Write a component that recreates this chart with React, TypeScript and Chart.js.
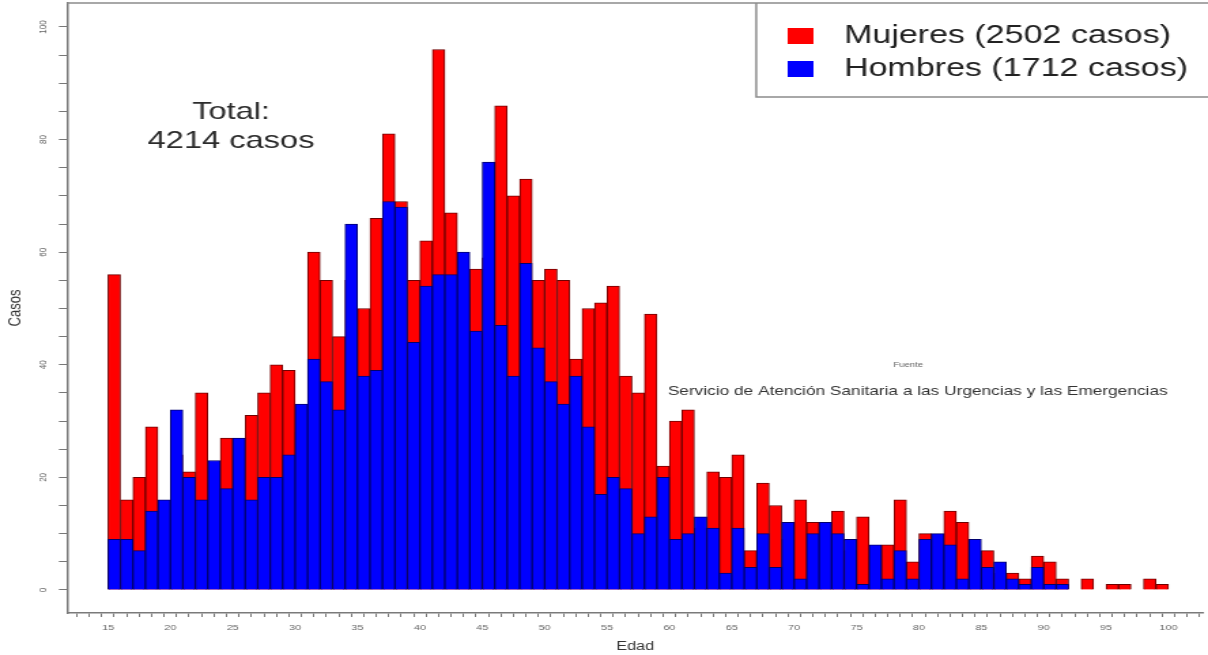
import React, { useEffect, useRef } from 'react';
import { Chart, registerables } from 'chart.js';

Chart.register(...registerables);

// ---- data ----
const ages = [
  15, 16, 17, 18, 19, 20, 21, 22, 23, 24, 25, 26, 27, 28, 29, 30, 31, 32, 33, 34,
  35, 36, 37, 38, 39, 40, 41, 42, 43, 44, 45, 46, 47, 48, 49, 50, 51, 52, 53, 54,
  55, 56, 57, 58, 59, 60, 61, 62, 63, 64, 65, 66, 67, 68, 69, 70, 71, 72, 73, 74,
  75, 76, 77, 78, 79, 80, 81, 82, 83, 84, 85, 86, 87, 88, 89, 90, 91, 92, 93, 94,
  95, 96, 97, 98, 99,
];

const mujeres = [
  56, 16, 20, 29, 14, 24, 21, 35, 19, 27, 24, 31, 35, 40, 39, 28, 60, 55, 45, 55,
  50, 66, 81, 69, 55, 62, 96, 67, 52, 57, 59, 86, 70, 73, 55, 57, 55, 41, 50, 51,
  54, 38, 35, 49, 22, 30, 32, 11, 21, 20, 24, 7, 19, 15, 9, 16, 12, 10, 14, 7,
  13, 6, 8, 16, 5, 10, 7, 14, 12, 6, 7, 3, 3, 2, 6, 5, 2, 0, 2, 0,
  1, 1, 0, 2, 1,
];

const hombres = [
  9, 9, 7, 14, 16, 32, 20, 16, 23, 18, 27, 16, 20, 20, 24, 33, 41, 37, 32, 65,
  38, 39, 69, 68, 44, 54, 56, 56, 60, 46, 76, 47, 38, 58, 43, 37, 33, 38, 29, 17,
  20, 18, 10, 13, 20, 9, 10, 13, 11, 3, 11, 4, 10, 4, 12, 2, 10, 12, 10, 9,
  1, 8, 2, 7, 2, 9, 10, 8, 2, 9, 4, 5, 2, 1, 4, 1, 1, 0, 0, 0,
  0, 0, 0, 0, 0,
];

const seriesLabels = ['Mujeres (2502 casos)', 'Hombres (1712 casos)'];
const xTickLabels = [15, 20, 25, 30, 35, 40, 45, 50, 55, 60, 65, 70, 75, 80, 85, 90, 95, 100];
const yTickLabels = [0, 20, 40, 60, 80, 100];
const xTitle = 'Edad';
const yTitle = 'Casos';
const totalLines = ['Total:', '4214 casos'];
const sourceTitle = 'Fuente';
const sourceText = 'Servicio de Atención Sanitaria a las Urgencias y las Emergencias';

// ---- layout (canvas is drawn narrower and stretched horizontally, like the reference) ----
const CANVAS_W = 888;
const CANVAS_H = 655;
const DISPLAY_W = 1208;
const FONT = "'Liberation Sans', Arial, Helvetica, sans-serif";

const binCenter = (age: number) => age + 0.5;

const makeSwatch = (color: string) => {
  const c = document.createElement('canvas');
  c.width = 19;
  c.height = 16;
  const g = c.getContext('2d');
  if (g) {
    g.fillStyle = color;
    g.fillRect(0, 0, 19, 16);
  }
  return c;
};

const legendPlacer = {
  id: 'legendPlacer',
  afterLayout(chart: any) {
    const lg = chart.legend;
    if (!lg) return;
    lg.left = 561.9;
    lg.top = 15.5;
    lg.right = chart.width;
    lg.bottom = lg.top + 110;
    lg.width = lg.right - lg.left;
    lg.height = 110;
  },
};

const framePlugin = {
  id: 'framePlugin',
  afterDraw(chart: any) {
    const { ctx, chartArea, legend } = chart;
    ctx.save();
    ctx.strokeStyle = '#8c8c8c';
    ctx.lineWidth = 1.5;
    ctx.beginPath();
    ctx.moveTo(chartArea.left, chartArea.top);
    ctx.lineTo(chart.width, chartArea.top);
    const lx = legend.left - 6;
    const by = 97;
    ctx.moveTo(lx, chartArea.top);
    ctx.lineTo(lx, by);
    ctx.lineTo(chart.width, by);
    ctx.stroke();
    ctx.restore();
  },
};

const notesPlugin = {
  id: 'notesPlugin',
  afterDraw(chart: any) {
    const { ctx } = chart;
    const xs = chart.scales.x;
    const ys = chart.scales.y;
    ctx.save();
    ctx.textAlign = 'center';
    ctx.textBaseline = 'middle';
    ctx.fillStyle = '#2b2b2b';
    ctx.font = `24px ${FONT}`;
    ctx.fillText(totalLines[0], xs.getPixelForValue(24.86), ys.getPixelForValue(84.8));
    ctx.fillText(totalLines[1], xs.getPixelForValue(24.86), ys.getPixelForValue(79.75));
    ctx.fillStyle = '#666';
    ctx.font = `7px ${FONT}`;
    ctx.fillText(sourceTitle, xs.getPixelForValue(79.15), ys.getPixelForValue(40));
    ctx.fillStyle = '#333';
    ctx.font = `12.7px ${FONT}`;
    ctx.fillText(sourceText, xs.getPixelForValue(79.9), ys.getPixelForValue(35.2));
    ctx.restore();
  },
};

export default function App() {
  const ref = useRef<HTMLCanvasElement>(null);

  useEffect(() => {
    if (!ref.current) return;
    Chart.defaults.font.family = FONT;
    const defaultGen = (Chart.defaults as any).plugins.legend.labels.generateLabels;

    const chart = new Chart(ref.current, {
      type: 'bar',
      data: {
        datasets: [
          {
            label: seriesLabels[1],
            data: ages.map((a, i) => ({ x: binCenter(a), y: hombres[i] })),
            backgroundColor: '#0000ff',
            borderColor: '#00006e',
            borderWidth: 1,
            categoryPercentage: 1,
            barPercentage: 1,
          },
          {
            label: seriesLabels[0],
            data: ages.map((a, i) => ({ x: binCenter(a), y: mujeres[i] })),
            backgroundColor: '#ff0000',
            borderColor: '#6e0000',
            borderWidth: 1,
            categoryPercentage: 1,
            barPercentage: 1,
          },
        ],
      },
      options: {
        responsive: false,
        animation: false,
        events: [],
        layout: { padding: { left: 0, top: 3, right: 3.4, bottom: 0 } },
        scales: {
          x: {
            type: 'linear',
            stacked: true,
            min: 11.72,
            max: 102.8,
            offset: false,
            grid: { drawOnChartArea: false, drawTicks: true, tickLength: 4, tickColor: '#777', tickWidth: 1 },
            border: { display: true, color: '#7a7a7a', width: 1.5 },
            ticks: {
              stepSize: 1,
              autoSkip: false,
              includeBounds: false,
              minRotation: 0,
              maxRotation: 0,
              padding: 6,
              color: '#666',
              font: { size: 8 },
              callback: (v: any) => (xTickLabels.includes(Number(v)) ? String(v) : ''),
            },
            title: { display: true, text: xTitle, color: '#333', font: { size: 12 }, padding: { top: 0, bottom: 1 } },
            afterFit: (s: any) => {
              s.height = 42;
              s.paddingLeft = 0;
              s.paddingRight = 0;
            },
          },
          y: {
            type: 'linear',
            stacked: false,
            min: -4.09,
            max: 104.26,
            grid: { drawOnChartArea: false, drawTicks: true, tickLength: 6, tickColor: '#777', tickWidth: 1 },
            border: { display: true, color: '#7a7a7a', width: 1.5 },
            ticks: {
              stepSize: 5,
              autoSkip: false,
              includeBounds: false,
              minRotation: 90,
              maxRotation: 90,
              crossAlign: 'center',
              padding: 5,
              color: '#666',
              font: { size: 8 },
              callback: (v: any) => (yTickLabels.includes(Number(v)) ? String(v) : ''),
            },
            title: { display: true, text: yTitle, color: '#333', font: { size: 13 }, padding: { top: 4, bottom: 0 } },
            afterFit: (s: any) => {
              s.width = 49.3;
              s.paddingTop = 0;
              s.paddingBottom = 0;
            },
          },
        },
        plugins: {
          legend: {
            position: 'chartArea',
            align: 'start',
            reverse: true,
            labels: {
              color: '#222',
              font: { size: 25 },
              usePointStyle: true,
              pointStyleWidth: 38,
              boxHeight: 16,
              padding: 8,
              generateLabels: (c: any) =>
                defaultGen(c).map((l: any) => ({
                  ...l,
                  lineWidth: 0,
                  pointStyle: makeSwatch(l.fillStyle),
                })),
            },
          },
          tooltip: { enabled: false },
        },
      } as any,
      plugins: [legendPlacer, framePlugin, notesPlugin],
    });
    return () => chart.destroy();
  }, []);

  return (
    <canvas
      ref={ref}
      width={CANVAS_W}
      height={CANVAS_H}
      style={{ position: 'fixed', left: 0, top: 0, width: `${DISPLAY_W}px`, height: `${CANVAS_H}px` }}
    />
  );
}
